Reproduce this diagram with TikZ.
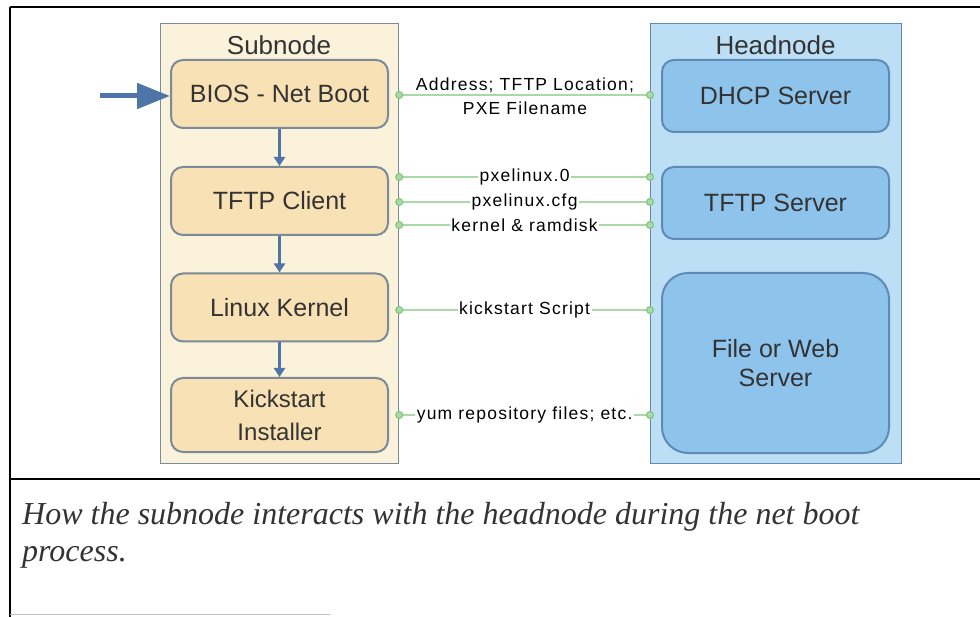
\documentclass[tikz,border=0pt]{standalone}
\usepackage{fontspec}
\setmainfont{Liberation Sans}
\newfontfamily\capfont{Liberation Serif}
\newfontfamily\linkfont[LetterSpace=7]{Liberation Sans}
\usetikzlibrary{arrows.meta,calc}

\definecolor{subfill}{HTML}{FBF2DC}
\definecolor{subbox}{HTML}{F8E2B5}
\definecolor{subedge}{HTML}{7C8A98}
\definecolor{headfill}{HTML}{BDDFF6}
\definecolor{headbox}{HTML}{8EC4EC}
\definecolor{headedge}{HTML}{5E8BB5}
\definecolor{flow}{HTML}{4F74A8}
\definecolor{link}{HTML}{A9D9A6}
\definecolor{linkdot}{HTML}{7DC47A}
\definecolor{ink}{HTML}{333333}

\tikzset{
  container/.style={draw=#1, line width=1.2pt, inner sep=0pt, anchor=north west},
  stepbox/.style={draw=subedge, fill=subbox, line width=2pt, rounded corners=12pt,
    minimum width=217pt, minimum height=68pt, align=center, text=ink,
    font=\fontsize{25}{29}\selectfont},
  srvbox/.style={draw=headedge, fill=headbox, line width=2pt, rounded corners=12pt,
    minimum width=227pt, minimum height=72pt, align=center, text=ink,
    font=\fontsize{25}{29}\selectfont},
  boxtitle/.style={text=ink, font=\fontsize{26}{30}\selectfont},
  flowarrow/.style={draw=flow, line width=2.6pt, -{Triangle[length=9pt,width=11pt]}},
  link/.style={draw=link, line width=1.6pt},
  linkend/.style={circle, draw=linkdot, fill=link, line width=1pt, minimum size=7pt, inner sep=0pt},
  linklabel/.style={fill=white, inner sep=1.5pt, text=black, font=\linkfont\fontsize{17.5}{20}\selectfont},
  plainlabel/.style={inner sep=0pt, text=black, font=\linkfont\fontsize{17.5}{20}\selectfont},
  caption/.style={anchor=base west, inner sep=0pt, text=ink,
    font=\capfont\itshape\fontsize{32}{36}\selectfont},
  frame/.style={draw=black, line width=1.4pt}
}

\begin{document}
\begin{tikzpicture}[x=1pt, y=-1pt]
\useasboundingbox (0,0) rectangle (980,617);

% page frame and caption rule
\draw[frame] (10,7) -- (980,7);
\draw[frame] (10,7) -- (10,617);
\draw[frame] (10,479) -- (980,479);
\draw[gray!50, line width=1pt] (10,614) -- (330,614);

% the two machines
\node[container=subedge, fill=subfill, minimum width=238pt, minimum height=440pt] (subC) at (160,23) {};
\node[container=headedge, fill=headfill, minimum width=251pt, minimum height=440pt] (headC) at (650,23) {};
\node[boxtitle] (subT) at (279,45) {Subnode};
\node[boxtitle] (headT) at (775.5,45) {Headnode};

% subnode boot stages
\node[stepbox] (bios) at (279.5,94) {BIOS - Net Boot};
\node[stepbox] (tftpc) at (279.5,201) {TFTP Client};
\node[stepbox] (kern) at (279.5,307.5) {Linux Kernel};
\node[stepbox, minimum height=74pt, font=\fontsize{24}{33}\selectfont] (kick) at (279.5,415) {Kickstart\\Installer};

% headnode services
\node[srvbox] (dhcp) at (775.5,96) {DHCP Server};
\node[srvbox] (tftps) at (775.5,203) {TFTP Server};
\node[srvbox, minimum height=180pt, rounded corners=26pt] (web) at (775.5,363) {File or Web\\Server};

% boot sequence
\coordinate (power) at (100,96);
\draw[draw=flow, line width=5pt, -{Triangle[length=33pt,width=25pt]}] (power) -- (bios.west |- power);
\draw[flowarrow] (bios.south) -- (tftpc.north);
\draw[flowarrow] (tftpc.south) -- (kern.north);
\draw[flowarrow] (kern.south) -- (kick.north);

% network exchanges between the machines
\coordinate (l1a) at ($(subC.east |- bios)+(0,1)$);
\coordinate (l1b) at ($(headC.west |- bios)+(0,1)$);
\draw[link] (l1a) -- (l1b);
\node[plainlabel] (l1t) at (525,85) {Address; TFTP Location;};
\node[plainlabel] (l1u) at (525,108) {PXE Filename};

\coordinate (l2a) at ($(subC.east |- tftpc)+(0,-24)$);
\coordinate (l2b) at ($(headC.west |- tftpc)+(0,-24)$);
\coordinate (l3a) at ($(subC.east |- tftpc)+(0,1)$);
\coordinate (l3b) at ($(headC.west |- tftpc)+(0,1)$);
\coordinate (l4a) at ($(subC.east |- tftpc)+(0,24)$);
\coordinate (l4b) at ($(headC.west |- tftpc)+(0,24)$);
\coordinate (l5a) at ($(subC.east |- kern)+(0,2.5)$);
\coordinate (l5b) at ($(headC.west |- kern)+(0,2.5)$);
\coordinate (l6a) at (subC.east |- kick);
\coordinate (l6b) at (headC.west |- kick);

\draw[link] (l2a) -- node[linklabel] {pxelinux.0} (l2b);
\draw[link] (l3a) -- node[linklabel] {pxelinux.cfg} (l3b);
\draw[link] (l4a) -- node[linklabel] {kernel \& ramdisk} (l4b);
\draw[link] (l5a) -- node[linklabel] {kickstart Script} (l5b);
\draw[link] (l6a) -- node[linklabel] {yum repository files; etc.} (l6b);

\foreach \e in {l1a,l1b,l2a,l2b,l3a,l3b,l4a,l4b,l5a,l5b,l6a,l6b}
  \node[linkend] at (\e) {};

% caption
\node[caption] (cap1) at (22,524) {How the subnode interacts with the headnode during the net boot};
\node[caption] (cap2) at (22,561) {process.};
\end{tikzpicture}
\end{document}
